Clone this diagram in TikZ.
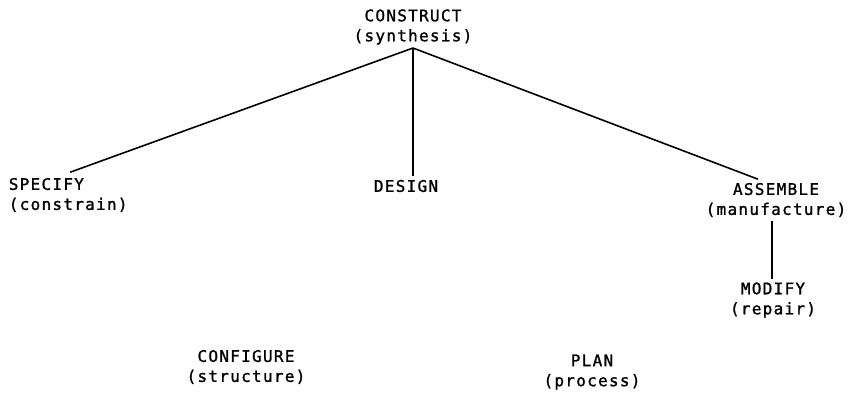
\documentclass[tikz,border=0pt]{standalone}
\usepackage{fontspec}
\newfontfamily\taskfont{DejaVu Sans Mono}[LetterSpace=8,FakeBold=1.3]
\begin{document}
\begin{tikzpicture}[
      x=1pt,
      y=-1pt,
      line width=1.6pt,
      task/.style={
        font=\taskfont\fontsize{16}{20}\selectfont,
        align=center,
        inner sep=3pt
      }
    ]
      \useasboundingbox (0,0) rectangle (851,394);

      \node (construct) at (413,27) [task]{CONSTRUCT\\(synthesis)};
      \coordinate (apex) at (413,48);

      \node (specify) at (8,195) [task,anchor=west,align=left,inner sep=0pt]{SPECIFY\\(constrain)};
      \node (design) at (406,186) [task]{DESIGN};
      \node (assemble) at (776,200) [task]{ASSEMBLE\\(manufacture)};
      \node (modify) at (773,300) [task]{MODIFY\\(repair)};

      \node (configure) at (246,367) [task]{CONFIGURE\\(structure)};
      \node (plan) at (592,372) [task]{PLAN\\(process)};

      \coordinate (s) at ([xshift=2pt,yshift=5pt]specify.north);
      \draw (apex) -- (s);
      \draw (apex) -- (apex |- design.north);
      \draw (apex) -- ([xshift=-18pt]assemble.north);

      \draw ([xshift=-4pt]assemble.south) -- ([xshift=-1pt]modify.north);

    \end{tikzpicture}
\end{document}
